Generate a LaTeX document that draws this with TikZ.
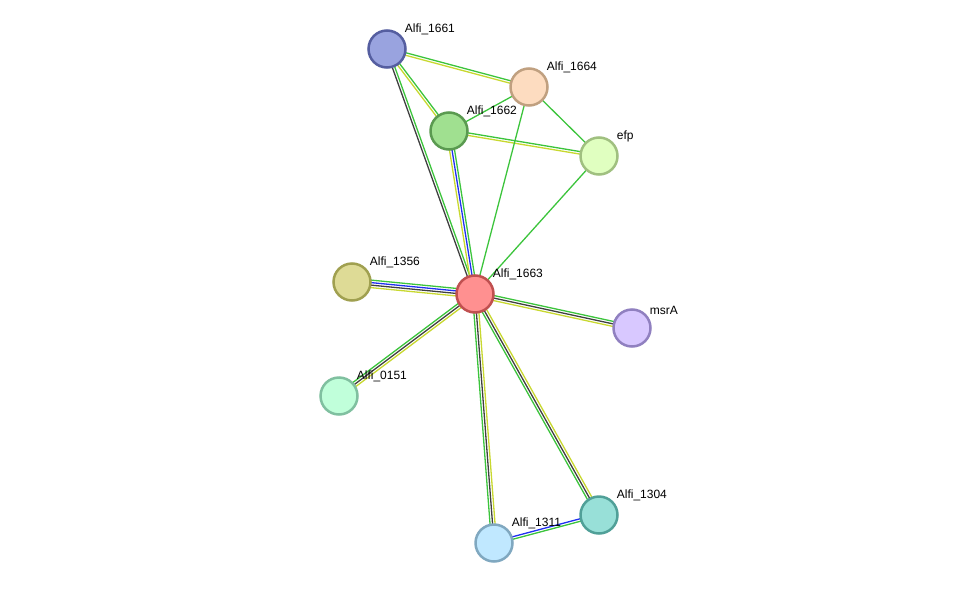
\documentclass[tikz,border=0pt]{standalone}
\usepackage{fontspec}
\setmainfont{Liberation Sans}
\usetikzlibrary{calc,backgrounds}

\definecolor{tgreen}{HTML}{3CC43C}
\definecolor{tyellow}{HTML}{C8D830}
\definecolor{tblue}{HTML}{2030F0}
\definecolor{tblack}{HTML}{404040}

\tikzset{
  prot/.style={circle, draw, line width=2.5pt, minimum size=37pt, inner sep=0pt},
  lbl/.style={font=\fontsize{12}{14}\selectfont, inner sep=1pt, label distance=1pt, xshift=2pt, yshift=-2pt},
  link/.style={line width=1.3pt}
}

\begin{document}
\begin{tikzpicture}[x=1pt, y=-1pt]
  \useasboundingbox (0,0) rectangle (976,589);

  \node[prot, fill={rgb,255:red,153;green,163;blue,223}, draw={rgb,255:red,85;green,94;blue,160}, label={[lbl]45:Alfi\_1661}] (n1661) at (387,49) {};
  \node[prot, fill={rgb,255:red,253;green,220;blue,192}, draw={rgb,255:red,192;green,160;blue,128}, label={[lbl]45:Alfi\_1664}] (n1664) at (529,87) {};
  \node[prot, fill={rgb,255:red,160;green,224;blue,144}, draw={rgb,255:red,90;green,154;blue,80}, label={[lbl]45:Alfi\_1662}] (n1662) at (449,131) {};
  \node[prot, fill={rgb,255:red,224;green,255;blue,192}, draw={rgb,255:red,160;green,192;blue,128}, label={[lbl]45:efp}] (nefp) at (599,156) {};
  \node[prot, fill={rgb,255:red,222;green,219;blue,150}, draw={rgb,255:red,160;green,160;blue,80}, label={[lbl]45:Alfi\_1356}] (n1356) at (352,282) {};
  \node[prot, fill={rgb,255:red,255;green,144;blue,144}, draw={rgb,255:red,192;green,80;blue,80}, label={[lbl]45:Alfi\_1663}] (n1663) at (475,294) {};
  \node[prot, fill={rgb,255:red,216;green,200;blue,255}, draw={rgb,255:red,144;green,128;blue,192}, label={[lbl]45:msrA}] (nmsrA) at (632,328) {};
  \node[prot, fill={rgb,255:red,192;green,255;blue,218}, draw={rgb,255:red,128;green,192;blue,160}, label={[lbl]45:Alfi\_0151}] (n0151) at (339,396) {};
  \node[prot, fill={rgb,255:red,152;green,224;blue,216}, draw={rgb,255:red,80;green,160;blue,152}, label={[lbl]45:Alfi\_1304}] (n1304) at (599,515) {};
  \node[prot, fill={rgb,255:red,192;green,232;blue,255}, draw={rgb,255:red,128;green,168;blue,192}, label={[lbl]45:Alfi\_1311}] (n1311) at (494,543) {};

  % evidence lines, one per channel
  \begin{scope}[on background layer]
    \foreach \a/\b/\n/\cols in {
        n1661/n1664/2/{tyellow,tgreen},
        n1661/n1662/2/{tyellow,tgreen},
        n1661/n1663/2/{tblack,tgreen},
        n1662/n1664/1/{tgreen},
        n1662/nefp/2/{tyellow,tgreen},
        n1662/n1663/3/{tyellow,tblue,tgreen},
        n1664/nefp/1/{tgreen},
        n1664/n1663/1/{tgreen},
        nefp/n1663/1/{tgreen},
        n1356/n1663/4/{tyellow,tblack,tblue,tgreen},
        n1663/nmsrA/3/{tyellow,tblack,tgreen},
        n1663/n0151/3/{tgreen,tblack,tyellow},
        n1663/n1311/3/{tgreen,tblack,tyellow},
        n1663/n1304/3/{tgreen,tblack,tyellow},
        n1311/n1304/2/{tgreen,tblue}}
      \foreach \c [count=\i] in \cols {
        \pgfmathsetmacro\off{(\i-(\n+1)/2)*2.5}
        \draw[link, \c] ($(\a)!\off pt!90:(\b)$) -- ($(\b)!\off pt!-90:(\a)$);
      }
  \end{scope}
\end{tikzpicture}
\end{document}
